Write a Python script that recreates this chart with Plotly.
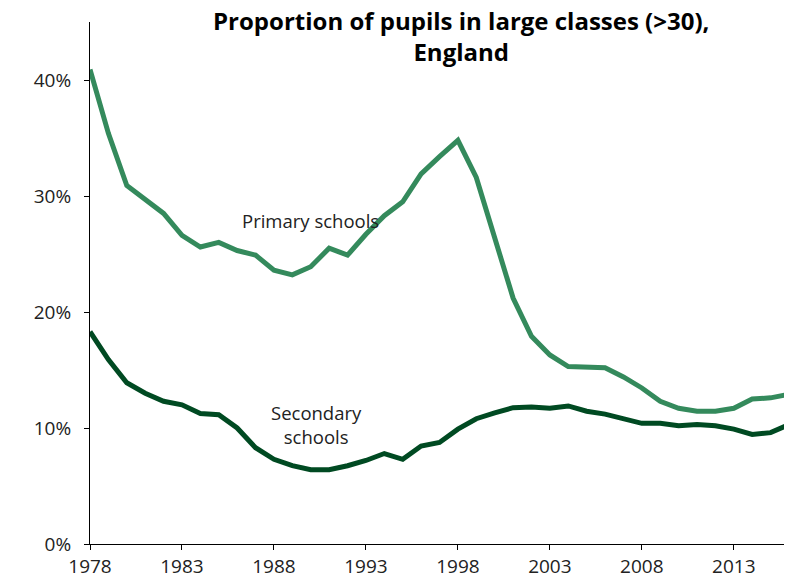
import plotly.graph_objects as go

years = list(range(1978, 2017))
primary = [40.9, 35.4, 30.9, 29.7, 28.5, 26.6, 25.6, 26.0, 25.3, 24.9,
           23.6, 23.2, 23.9, 25.5, 24.9, 26.7, 28.3, 29.5, 31.9, 33.4,
           34.8, 31.6, 26.4, 21.2, 17.9, 16.3, 15.3, 15.25, 15.2, 14.4,
           13.45, 12.3, 11.7, 11.45, 11.45, 11.7, 12.5, 12.6, 12.9]
secondary = [18.3, 15.9, 13.9, 13.0, 12.3, 12.0, 11.25, 11.15, 10.0, 8.3,
             7.3, 6.75, 6.4, 6.4, 6.75, 7.2, 7.8, 7.3, 8.45, 8.75,
             9.9, 10.8, 11.3, 11.75, 11.8, 11.7, 11.9, 11.45, 11.2, 10.8,
             10.4, 10.4, 10.2, 10.3, 10.2, 9.9, 9.45, 9.6, 10.3]
x_ticks = [1978, 1983, 1988, 1993, 1998, 2003, 2008, 2013]
y_ticks = [0, 10, 20, 30, 40]
y_tick_labels = ["0%", "10%", "20%", "30%", "40%"]

FONT = "Open Sans"

fig = go.Figure()
fig.add_trace(go.Scatter(x=years, y=primary, mode="lines",
                         line=dict(color="#348a5c", width=5), name="Primary schools"))
fig.add_trace(go.Scatter(x=years, y=secondary, mode="lines",
                         line=dict(color="#004a22", width=5), name="Secondary schools"))

fig.add_annotation(x=1990.0, y=27.9, text="Primary schools", showarrow=False,
                   font=dict(family=FONT, size=18.5, color="#222222"))
fig.add_annotation(x=1990.3, y=10.3, text="Secondary<br>schools", showarrow=False,
                   font=dict(family=FONT, size=18.5, color="#222222"))

fig.add_annotation(xref="paper", yref="paper", x=0.531, y=0.974,
                   xanchor="center", yanchor="middle", showarrow=False,
                   text="<b>Proportion of pupils in large classes (>30),<br>England</b>",
                   font=dict(family=FONT, size=24, color="black"))

fig.update_layout(
    width=784, height=574,
    margin=dict(l=82, r=3, t=14, b=35),
    paper_bgcolor="white", plot_bgcolor="white",
    showlegend=False,
    xaxis=dict(range=[1978, 2016], tickvals=x_ticks, showgrid=False, zeroline=False,
               showline=True, linecolor="black", linewidth=1,
               ticks="outside", ticklen=5, tickcolor="black",
               tickfont=dict(family=FONT, size=19, color="#222222")),
    yaxis=dict(range=[0, 45], tickvals=y_ticks, ticktext=y_tick_labels,
               showgrid=False, zeroline=False,
               showline=True, linecolor="black", linewidth=1,
               ticks="outside", ticklen=5, tickcolor="black", ticklabelstandoff=9,
               tickfont=dict(family=FONT, size=19, color="#222222")),
)

fig.write_html("out.html")
